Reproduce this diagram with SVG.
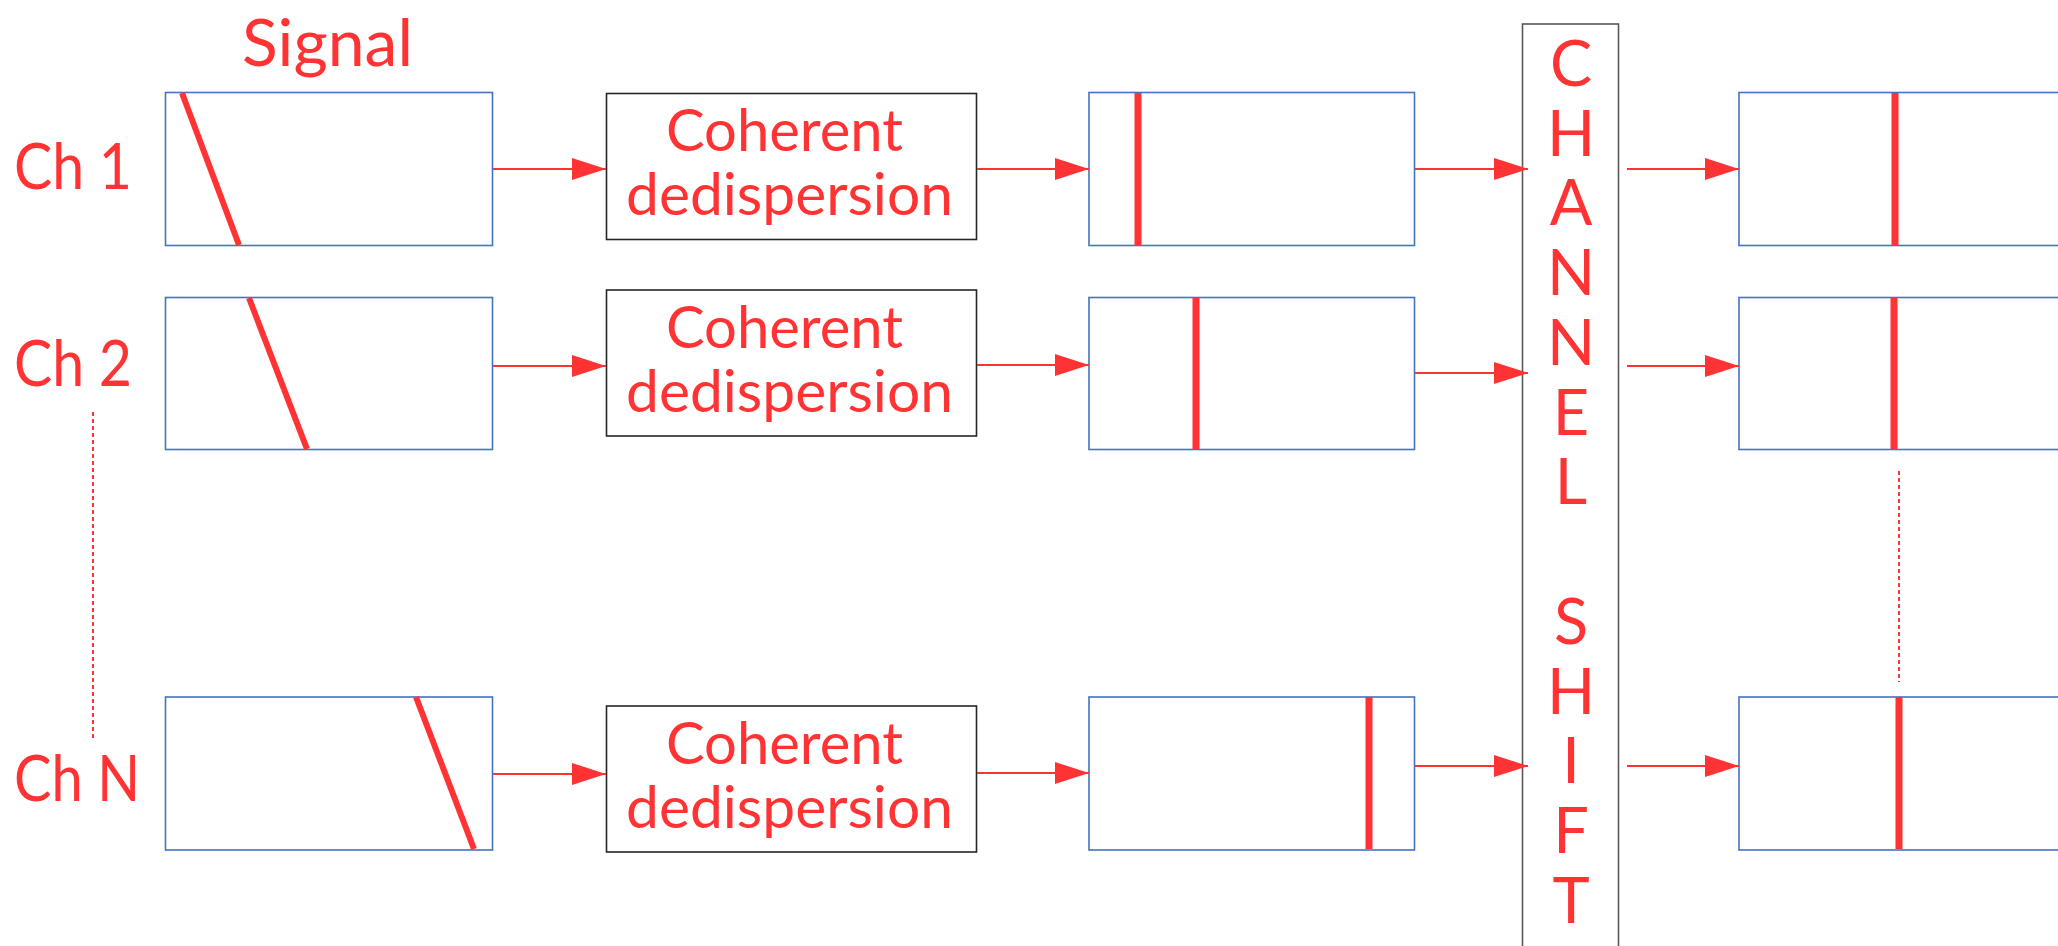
<svg xmlns="http://www.w3.org/2000/svg" width="2058" height="946" viewBox="0 0 2058 946">
<style>
.bg{fill:#ffffff}
.sig{fill:#ffffff;stroke:#4472C4;stroke-width:1.6}
.proc{fill:#ffffff;stroke:#262626;stroke-width:1.6}
.chs{fill:#ffffff;stroke:#595959;stroke-width:1.6}
.pulse{stroke:#FF3333;stroke-width:6;fill:none}
.vpulse{stroke:#FF3333;stroke-width:7;fill:none}
.conn{stroke:#FF3333;stroke-width:2;fill:none;marker-end:url(#ah)}
.dots{stroke:#FF3333;stroke-width:2;stroke-dasharray:4 3;fill:none}
.t{fill:#FF3333;font-family:Lato,"Open Sans","Liberation Sans",sans-serif}
.lbl{font-size:63px}
.box{font-size:58px}
.ch{font-size:63px;text-anchor:middle}
</style>
<defs>
<marker id="ah" markerUnits="userSpaceOnUse" markerWidth="34" markerHeight="22" refX="34" refY="11" orient="auto">
<path d="M0,0 L34,11 L0,22 Z" fill="#FF3333"/>
</marker>
</defs>
<rect class="bg" x="0" y="0" width="2058" height="946"/>

<g id="title"><text class="t" x="242" y="66" font-size="65" textLength="171" lengthAdjust="spacingAndGlyphs">Signal</text></g>

<g id="labels">
<text class="t lbl" x="14" y="189" textLength="118" lengthAdjust="spacingAndGlyphs">Ch 1</text>
<text class="t lbl" x="14" y="386" textLength="118" lengthAdjust="spacingAndGlyphs">Ch 2</text>
<text class="t lbl" x="14" y="801" textLength="126" lengthAdjust="spacingAndGlyphs">Ch N</text>
<line class="dots" x1="93" y1="412" x2="93" y2="739"/>
</g>

<g id="signal1"><rect class="sig" x="165.5" y="92.5" width="327" height="153"/><line class="pulse" x1="182" y1="93" x2="239" y2="245"/></g>
<g id="signal2"><rect class="sig" x="165.5" y="297.5" width="327" height="152"/><line class="pulse" x1="249" y1="298" x2="307" y2="449"/></g>
<g id="signalN"><rect class="sig" x="165.5" y="697" width="327" height="153"/><line class="pulse" x1="416" y1="697" x2="474" y2="849"/></g>

<g id="dedisp1"><rect class="proc" x="606.5" y="93.5" width="370" height="146"/>
<text class="t box" x="666" y="151" textLength="237" lengthAdjust="spacingAndGlyphs">Coherent</text>
<text class="t box" x="626" y="215" textLength="327" lengthAdjust="spacingAndGlyphs">dedispersion</text></g>
<g id="dedisp2"><rect class="proc" x="606.5" y="290" width="370" height="146"/>
<text class="t box" x="666" y="348" textLength="237" lengthAdjust="spacingAndGlyphs">Coherent</text>
<text class="t box" x="626" y="412" textLength="327" lengthAdjust="spacingAndGlyphs">dedispersion</text></g>
<g id="dedispN"><rect class="proc" x="606.5" y="706" width="370" height="146"/>
<text class="t box" x="666" y="764" textLength="237" lengthAdjust="spacingAndGlyphs">Coherent</text>
<text class="t box" x="626" y="828" textLength="327" lengthAdjust="spacingAndGlyphs">dedispersion</text></g>

<g id="aligned1"><rect class="sig" x="1089" y="92.5" width="325.5" height="153"/><line class="vpulse" x1="1138" y1="93" x2="1138" y2="245"/></g>
<g id="aligned2"><rect class="sig" x="1089" y="297.5" width="325.5" height="152"/><line class="vpulse" x1="1196" y1="298" x2="1196" y2="449"/></g>
<g id="alignedN"><rect class="sig" x="1089" y="697" width="325.5" height="153"/><line class="vpulse" x1="1369" y1="697" x2="1369" y2="849"/></g>

<g id="channelshift"><rect class="chs" x="1522.5" y="24" width="96" height="940"/>
<text class="t ch" x="1571" y="86">C</text>
<text class="t ch" x="1571" y="156">H</text>
<text class="t ch" x="1571" y="225">A</text>
<text class="t ch" x="1571" y="295">N</text>
<text class="t ch" x="1571" y="365">N</text>
<text class="t ch" x="1571" y="435">E</text>
<text class="t ch" x="1571" y="504">L</text>
<text class="t ch" x="1571" y="644">S</text>
<text class="t ch" x="1571" y="714">H</text>
<text class="t ch" x="1571" y="783">I</text>
<text class="t ch" x="1571" y="853">F</text>
<text class="t ch" x="1571" y="923">T</text>
</g>

<g id="out1"><rect class="sig" x="1739" y="92.5" width="340" height="153"/><line class="vpulse" x1="1895" y1="93" x2="1895" y2="245"/></g>
<g id="out2"><rect class="sig" x="1739" y="297.5" width="340" height="152"/><line class="vpulse" x1="1894" y1="298" x2="1894" y2="449"/></g>
<g id="outN"><rect class="sig" x="1739" y="697" width="340" height="153"/><line class="vpulse" x1="1899" y1="697" x2="1899" y2="849"/></g>
<g id="outdots"><line class="dots" x1="1899" y1="471" x2="1899" y2="682"/></g>

<g id="connectors">
<line class="conn" x1="493" y1="169" x2="606" y2="169"/>
<line class="conn" x1="493" y1="366" x2="606" y2="366"/>
<line class="conn" x1="493" y1="774" x2="606" y2="774"/>
<line class="conn" x1="977" y1="169" x2="1089" y2="169"/>
<line class="conn" x1="977" y1="365" x2="1089" y2="365"/>
<line class="conn" x1="977" y1="773" x2="1089" y2="773"/>
<line class="conn" x1="1415" y1="169" x2="1528" y2="169"/>
<line class="conn" x1="1415" y1="373" x2="1528" y2="373"/>
<line class="conn" x1="1415" y1="766" x2="1528" y2="766"/>
<line class="conn" x1="1627" y1="169" x2="1739" y2="169"/>
<line class="conn" x1="1627" y1="366" x2="1739" y2="366"/>
<line class="conn" x1="1627" y1="766" x2="1739" y2="766"/>
</g>
</svg>
